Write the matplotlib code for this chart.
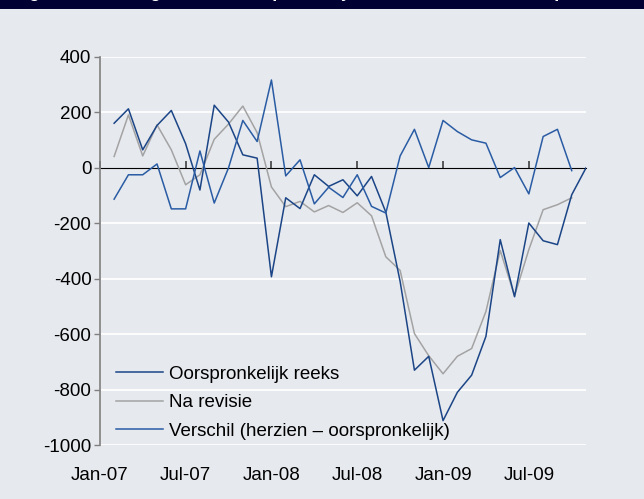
import numpy as np
import matplotlib
matplotlib.use("Agg")
import matplotlib.pyplot as plt
from matplotlib.patches import Rectangle

plt.rcParams["font.family"] = ["Liberation Sans", "DejaVu Sans"]
plt.rcParams["axes.unicode_minus"] = False

# ======================
# Data (maandelijks, x1000)
# ======================

tick_labels = ["Jan-07", "Jul-07", "Jan-08", "Jul-08", "Jan-09", "Jul-09"]

oorspronkelijk = [161, 213, 65, 153, 207, 87, -80, 226, 165, 47, 35, -393,
                  -108, -147, -25, -67, -43, -101, -31, -160, -410, -730,
                  -680, -912, -810, -748, -608, -259, -465, -199, -263,
                  -277, -97, 0]

na_revisie = [41, 191, 43, 155, 65, -61, -25, 103, 158, 223, 127, -69,
              -140, -121, -159, -136, -161, -126, -173, -321, -370, -598,
              -678, -743, -680, -652, -518, -298, -462, -295, -151, -133,
              -108]

verschil = [-113, -25, -25, 14, -148, -148, 61, -127, 0, 171, 95, 317,
            -29, 29, -130, -70, -107, -25, -139, -163, 43, 139, 1, 171,
            131, 101, 89, -35, 1, -94, 113, 139, -10]

# month index, Jan-07 = 0
x_orig = np.arange(1, len(oorspronkelijk) + 1)
x_rev = np.arange(1, len(na_revisie) + 1)
x_diff = np.arange(1, len(verschil) + 1)
tick_pos = np.arange(0, 6 * len(tick_labels), 6)

# ======================
# Plot
# ======================

bg = "#E6E9EE"
fig = plt.figure(figsize=(6.44, 4.99), dpi=100, facecolor=bg)
ax = fig.add_axes([0.155, 0.1082, 0.755, 0.7776], facecolor=bg)

# title bar (cut off at top, as in the source)
fig.patches.append(Rectangle((0, 1 - 9 / 499), 1, 9 / 499,
                             transform=fig.transFigure,
                             facecolor="#000033", edgecolor="none",
                             zorder=0))
fig.text(0.02, 1 + 3 / 499,
         "Figuur 4: Banengroei VS, oorspronkelijk en na revisie, duizend per maand",
         color="white", fontsize=13, fontweight="bold",
         va="baseline", ha="left")

for v in range(-1000, 401, 200):
    if v != 0:
        ax.axhline(v, color="white", lw=1.3, zorder=1)

ax.plot(x_rev, na_revisie, color="#A3A3A3", lw=1.1,
        label="Na revisie", zorder=3)
ax.plot(x_orig, oorspronkelijk, color="#1B4586", lw=1.1,
        label="Oorspronkelijk reeks", zorder=4)
ax.plot(x_diff, verschil, color="#2A5CA4", lw=1.1,
        label="Verschil (herzien \u2013 oorspronkelijk)", zorder=4)

ax.set_xlim(0, 34)
ax.set_ylim(-1000, 400)

ax.set_yticks(range(-1000, 401, 200))
ax.tick_params(axis="y", labelsize=13.5, length=4, width=1,
               color="#808080", pad=2)

ax.set_xticks(tick_pos)
ax.set_xticklabels(tick_labels)
ax.tick_params(axis="x", labelsize=13.5, length=0, pad=16)

for s in ["top", "right", "bottom"]:
    ax.spines[s].set_visible(False)
ax.spines["left"].set_color("#808080")
ax.spines["left"].set_linewidth(1.2)

# zero line with ticks
sec = ax.secondary_xaxis(1000 / 1400)
sec.set_xticks(tick_pos)
sec.set_xticklabels([])
sec.tick_params(axis="x", direction="out", length=5, width=1.2,
                color="#404040")
sec.spines["bottom"].set_color("#505050")
sec.spines["bottom"].set_linewidth(1.5)
sec.spines["bottom"].set_zorder(2)

handles, labels = ax.get_legend_handles_labels()
order = [1, 0, 2]
ax.legend([handles[i] for i in order], [labels[i] for i in order],
          loc="lower left", bbox_to_anchor=(0.01, -0.015),
          frameon=False, fontsize=13.5, handlelength=2.5,
          handletextpad=0.35, labelspacing=0.6, borderaxespad=0.2)

fig.savefig("out.png", dpi=100, facecolor=bg)
